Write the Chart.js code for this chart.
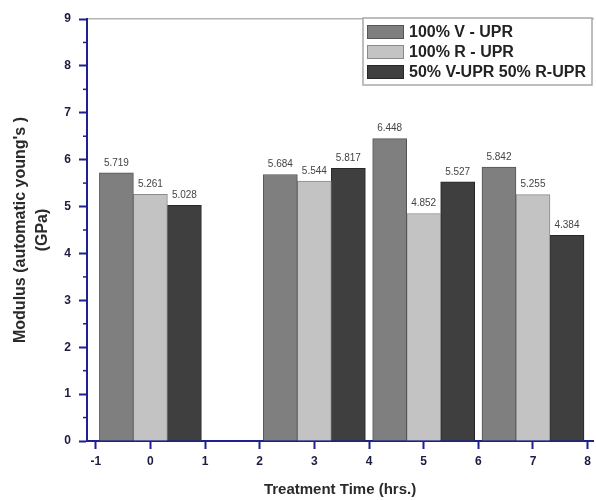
<!DOCTYPE html>
<html>
<head>
<meta charset="utf-8">
<script src="https://cdn.jsdelivr.net/npm/chart.js@4.4.1/dist/chart.umd.min.js"></script>
<style>
  html, body { margin: 0; padding: 0; background: #fff; }
  #wrap { width: 596px; height: 500px; }
</style>
</head>
<body>
<div id="wrap"><canvas id="modChart" width="596" height="500"></canvas></div>
<script>
// treatment times (hrs.) where each group of bars sits
const timeGroups = [0, 3, 5, 7];
const seriesNames = ['100% V - UPR', '100% R - UPR', '50% V-UPR 50% R-UPR'];
const virginUpr = [5.719, 5.684, 6.448, 5.842];
const recycledUpr = [5.261, 5.544, 4.852, 5.255];
const mixedUpr = [5.028, 5.817, 5.527, 4.384];
const xTicks = [-1, 0, 1, 2, 3, 4, 5, 6, 7, 8];
const yTicks = [0, 1, 2, 3, 4, 5, 6, 7, 8, 9];

const fills = ['#7f7f7f', '#c3c3c3', '#3f3f3f'];
const edges = ['#555555', '#8a8a8a', '#262626'];
const axisBlue = '#1f1f8f';
const tickInk = '#1c1c40';
const FONT = "'Liberation Sans', Arial, sans-serif";

function toPoints(vals) {
    return vals.map((v, i) => ({ x: timeGroups[i], y: v }));
}

const allSeries = [virginUpr, recycledUpr, mixedUpr];
const datasets = allSeries.map((vals, i) => ({
    label: seriesNames[i],
    data: toPoints(vals),
    backgroundColor: fills[i],
    borderColor: edges[i],
    borderWidth: 1,
    barThickness: 34
}));

// numbers above each bar
const barValues = {
    id: 'barValues',
    afterDatasetsDraw(chart) {
        const ctx = chart.ctx;
        ctx.save();
        ctx.font = '10px ' + FONT;
        ctx.fillStyle = '#444';
        ctx.textAlign = 'center';
        ctx.textBaseline = 'bottom';
        chart.data.datasets.forEach((ds, di) => {
            chart.getDatasetMeta(di).data.forEach((bar, i) => {
                ctx.fillText(ds.data[i].y.toFixed(3), bar.x, bar.y - 5);
            });
        });
        ctx.restore();
    }
};

// short minor ticks on the y axis (every 0.5)
const minorTicks = {
    id: 'minorTicks',
    afterDraw(chart) {
        const ctx = chart.ctx;
        const ys = chart.scales.y;
        const left = chart.chartArea.left;
        ctx.save();
        ctx.strokeStyle = axisBlue;
        ctx.lineWidth = 1.5;
        for (let i = 0; i < yTicks.length - 1; i++) {
            const py = ys.getPixelForValue((yTicks[i] + yTicks[i + 1]) / 2);
            ctx.beginPath();
            ctx.moveTo(left - 4, py);
            ctx.lineTo(left, py);
            ctx.stroke();
        }
        ctx.restore();
    }
};

// boxed legend sitting inside the plot, top right
const boxLegend = {
    id: 'boxLegend',
    afterDraw(chart) {
        const ctx = chart.ctx;
        const bx = 363, by = 18, bw = 229, bh = 67;
        ctx.save();
        ctx.fillStyle = '#fff';
        ctx.fillRect(bx, by, bw, bh);
        ctx.strokeStyle = '#a8a8a8';
        ctx.lineWidth = 1.5;
        ctx.strokeRect(bx, by, bw, bh);
        ctx.font = 'bold 16px ' + FONT;
        ctx.textBaseline = 'middle';
        ctx.textAlign = 'left';
        chart.data.datasets.forEach((ds, i) => {
            const cy = by + 14 + i * 20;
            ctx.fillStyle = ds.backgroundColor;
            ctx.fillRect(bx + 4, cy - 7, 37, 14);
            ctx.strokeStyle = ds.borderColor;
            ctx.lineWidth = 1;
            ctx.strokeRect(bx + 4.5, cy - 6.5, 36, 13);
            ctx.fillStyle = '#222';
            ctx.fillText(ds.label, bx + 46, cy + 1);
        });
        ctx.restore();
    }
};

new Chart(document.getElementById('modChart'), {
    type: 'bar',
    data: { datasets },
    options: {
        responsive: false,
        animation: false,
        devicePixelRatio: 1,
        layout: { padding: { left: 0, right: 1, top: 0, bottom: 0 } },
        plugins: {
            legend: { display: false },
            tooltip: { enabled: false }
        },
        scales: {
            x: {
                type: 'linear',
                position: 'bottom',
                min: -1.16,
                max: 8.1,
                offset: false,
                afterBuildTicks: s => { s.ticks = xTicks.map(v => ({ value: v })); },
                afterFit: s => { s.height = 59; },
                grid: { display: true, drawOnChartArea: false, offset: false, tickLength: 8, tickColor: axisBlue, tickWidth: 2 },
                border: { color: axisBlue, width: 2 },
                ticks: { color: tickInk, font: { family: FONT, size: 12, weight: 'bold' }, padding: 5, maxRotation: 0 },
                title: { display: true, text: 'Treatment Time (hrs.)', color: '#2a2a2a', font: { family: FONT, size: 15, weight: 'bold' }, padding: { top: 0, bottom: 1 } }
            },
            xTop: {
                type: 'linear',
                position: 'top',
                min: -1.16,
                max: 8.1,
                afterFit: s => { s.height = 19; },
                grid: { display: false },
                border: { color: '#b5b5b5', width: 1.5 },
                ticks: { display: false }
            },
            y: {
                min: 0,
                max: 9,
                afterBuildTicks: s => { s.ticks = yTicks.map(v => ({ value: v })); },
                afterFit: s => { s.width = 87; },
                grid: { display: true, drawOnChartArea: false, tickLength: 8, tickColor: axisBlue, tickWidth: 2 },
                border: { color: axisBlue, width: 2 },
                ticks: { color: tickInk, font: { family: FONT, size: 12, weight: 'bold' }, padding: 8 },
                title: { display: true, text: ["Modulus (automatic young's )", '(GPa)'], color: '#2a2a2a', font: { family: FONT, size: 16, weight: 'bold', lineHeight: 1.4 }, padding: { top: 9, bottom: 0 } }
            }
        }
    },
    plugins: [barValues, minorTicks, boxLegend]
});
</script>
</body>
</html>
